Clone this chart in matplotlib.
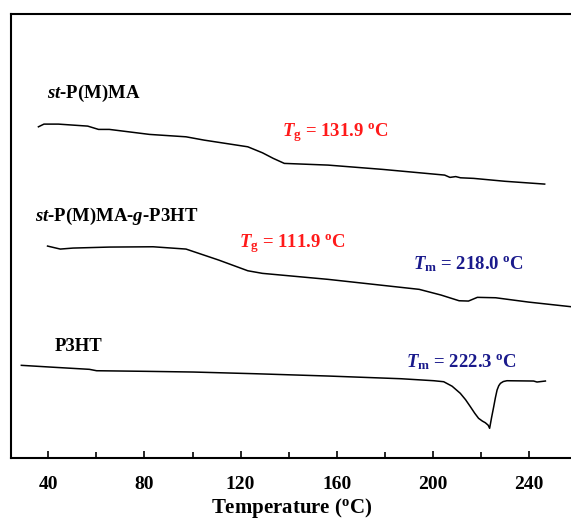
"""DSC traces of st-P(M)MA, the graft copolymer and P3HT."""

import matplotlib
matplotlib.use("Agg")
import matplotlib.pyplot as plt
from matplotlib.ticker import MultipleLocator

# heat flow, arbitrary units (curves stacked)
pmma_t = [35.9, 38.2, 44.2, 56.4, 60.9, 65.4, 82.1, 97.3, 104.8, 123.0, 129.1,
          133.6, 138.2, 156.4, 179.1, 204.9, 207.1, 209.5, 211.5, 217.0, 230.0, 246.5]
pmma_y = [331.0, 333.7, 333.7, 331.7, 328.4, 328.4, 323.4, 321.0, 317.7, 311.0,
          305.0, 299.4, 294.4, 292.7, 288.4, 282.7, 280.4, 281.2, 280.0, 279.4,
          276.5, 273.7]

graft_t = [39.7, 45.0, 50.3, 65.4, 83.6, 97.3, 110.9, 123.0, 129.1, 156.4,
           194.3, 203.4, 210.9, 214.8, 218.5, 226.1, 239.7, 257.6]
graft_y = [211.7, 208.7, 209.7, 210.7, 211.0, 208.7, 197.7, 187.0, 184.4,
           178.4, 168.4, 162.7, 157.0, 156.7, 160.4, 160.0, 155.7, 151.0]

p3ht_t = [28.8, 42.7, 57.1, 60.1, 80.6, 100.3, 126.1, 156.4, 186.7, 200.4,
          204.5, 208.0, 211.4, 213.6, 215.6, 217.4, 219.0, 220.6, 221.8, 223.0,
          223.6, 224.4, 225.3, 226.0, 226.7, 227.4, 228.1, 229.3, 230.8, 241.9,
          243.3, 246.8]
p3ht_y = [92.4, 90.4, 88.4, 87.0, 86.4, 85.7, 84.0, 81.7, 79.0, 77.0, 76.0,
          71.5, 64.4, 58.0, 51.0, 44.5, 39.4, 36.6, 35.0, 32.5, 29.4, 40.0,
          51.0, 60.0, 67.7, 72.0, 74.4, 76.2, 77.0, 76.7, 75.7, 76.7]

curve_t = [pmma_t, graft_t, p3ht_t]
curve_y = [pmma_y, graft_y, p3ht_y]

RED = "#ff1a1a"
NAVY = "#1a1a8c"

plt.rcParams["font.family"] = ["Liberation Serif", "DejaVu Serif"]
plt.rcParams["font.weight"] = "bold"
plt.rcParams["mathtext.fontset"] = "custom"
plt.rcParams["mathtext.rm"] = "Liberation Serif:bold"
plt.rcParams["mathtext.it"] = "Liberation Serif:italic:bold"
plt.rcParams["mathtext.bf"] = "Liberation Serif:bold"

fig = plt.figure(figsize=(5.71, 5.2), dpi=100)
ax = fig.add_axes([0.0193, 0.1198, 0.983, 0.853])

for t, y in zip(curve_t, curve_y):
    ax.plot(t, y, color="black", lw=1.1)

ax.set_xlim(24.5, 258.0)
ax.set_ylim(0, 443.7)
ax.set_xticks([40, 80, 120, 160, 200, 240])
ax.xaxis.set_minor_locator(MultipleLocator(20))
ax.tick_params(axis="x", which="major", direction="in", length=5, width=1.2,
               labelsize=14, pad=13)
ax.tick_params(axis="x", which="minor", direction="in", length=4, width=1.2)
ax.tick_params(axis="y", left=False, labelleft=False)
for lab in ax.get_xticklabels():
    lab.set_fontweight("bold")
for side in ["left", "bottom", "top"]:
    ax.spines[side].set_linewidth(1.5)
ax.spines["right"].set_visible(False)

ax.set_xlabel(r"Temperature ($^{\rm o}$C)", fontsize=15, fontweight="bold",
              labelpad=2)

fs = 13.5
ax.text(39.5, 364.7, r"$st$-P(M)MA", fontsize=fs, va="center", ha="left")
ax.text(34.4, 241.0, r"$st$-P(M)MA-$g$-P3HT", fontsize=fs, va="center", ha="left")
ax.text(42.5, 111.7, "P3HT", fontsize=fs, va="center", ha="left")

ax.text(137.3, 325.5, r"$T_{\rm g}$ = 131.9 $^{\rm o}$C", fontsize=fs,
        color=RED, va="center", ha="left")
ax.text(119.2, 214.0, r"$T_{\rm g}$ = 111.9 $^{\rm o}$C", fontsize=fs,
        color=RED, va="center", ha="left")
ax.text(191.9, 193.5, r"$T_{\rm m}$ = 218.0 $^{\rm o}$C", fontsize=fs,
        color=NAVY, va="center", ha="left")
ax.text(188.9, 95.5, r"$T_{\rm m}$ = 222.3 $^{\rm o}$C", fontsize=fs,
        color=NAVY, va="center", ha="left")

fig.savefig("out.png", dpi=100)
